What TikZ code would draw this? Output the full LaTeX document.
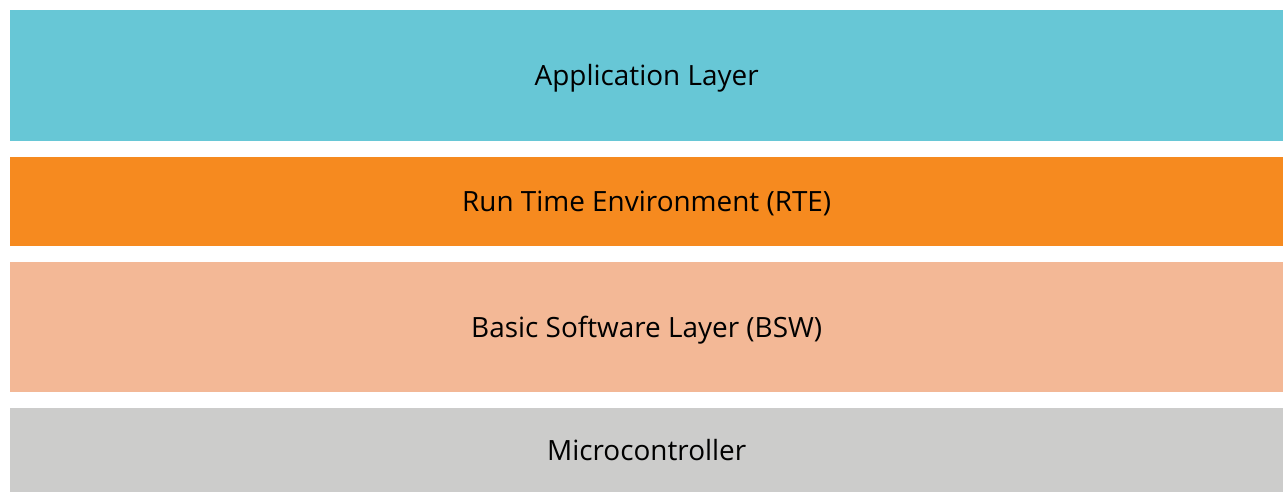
\documentclass[tikz,border=0pt]{standalone}
\usepackage{fontspec}
\setmainfont{Open Sans}
\usepackage{tikz}

\definecolor{applcol}{HTML}{67C7D6}
\definecolor{rtecol}{HTML}{F68A1F}
\definecolor{bswcol}{HTML}{F3B896}
\definecolor{mcucol}{HTML}{CCCCCB}

\tikzset{
  layer/.style={rectangle, anchor=north west, inner sep=0pt,
    minimum width=1273bp, text=black, text height=20bp, text depth=0pt,
    font=\fontsize{28}{33}\selectfont}
}

\begin{document}
\begin{tikzpicture}[x=1bp, y=-1bp]
		\useasboundingbox (0,0) rectangle (1283,492);
		% \draw[very thin, gray] (0,0) grid[step=100] (1283,492);

		\node[layer, fill=applcol, minimum height=131bp] at (10, 10) (appl) {Application Layer};
		\node[layer, fill=rtecol, minimum height=89bp] at (10, 157) (rte) {Run Time Environment (RTE)};
		\node[layer, fill=bswcol, minimum height=130bp] at (10, 262) (bsw) {Basic Software Layer (BSW)};
		\node[layer, fill=mcucol, minimum height=84bp] at (10, 408) (mcu) {Microcontroller};
	\end{tikzpicture}
\end{document}
